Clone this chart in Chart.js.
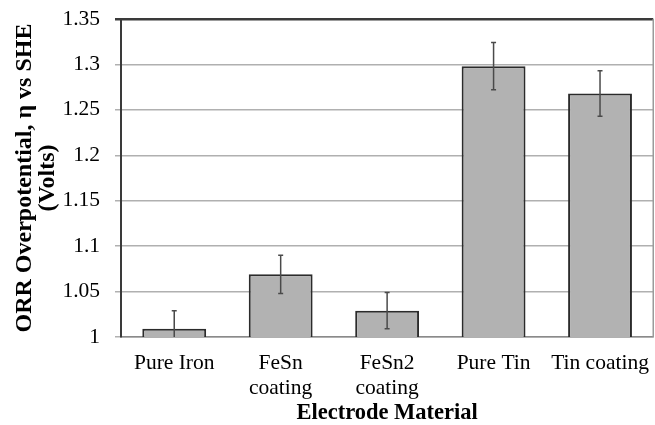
<!DOCTYPE html>
<html>
<head>
<meta charset="utf-8">
<script src="https://cdn.jsdelivr.net/npm/chart.js@4.4.1/dist/chart.umd.min.js"></script>
<style>
  html, body { margin: 0; padding: 0; background: #ffffff; }
  #wrap { width: 655px; height: 425px; position: relative; }
</style>
</head>
<body>
<div id="wrap"><canvas id="c"></canvas></div>
<script>
// Electrode materials and their ORR overpotential (V vs SHE) with error margins
const categories = ['Pure Iron', ['FeSn', 'coating'], ['FeSn2', 'coating'], 'Pure Tin', 'Tin coating'];
const overpotential = [1.009, 1.069, 1.029, 1.298, 1.268];
const errorMargin = [0.020, 0.021, 0.020, 0.026, 0.025];
const yTicks = [1, 1.05, 1.1, 1.15, 1.2, 1.25, 1.3, 1.35];

const SERIF = "'Liberation Serif', 'Times New Roman', serif";

// Draws symmetric error bars with small caps on top of each bar
const errorBars = {
  id: 'errorBars',
  afterDatasetsDraw(chart) {
    const ctx = chart.ctx;
    const y = chart.scales.y;
    const meta = chart.getDatasetMeta(0);
    const area = chart.chartArea;
    ctx.save();
    ctx.beginPath();
    ctx.rect(area.left, area.top, area.right - area.left, area.bottom - area.top);
    ctx.clip();
    ctx.strokeStyle = '#4a4a4a';
    ctx.lineWidth = 1.5;
    meta.data.forEach((bar, i) => {
      const hi = y.getPixelForValue(overpotential[i] + errorMargin[i]);
      const lo = y.getPixelForValue(overpotential[i] - errorMargin[i]);
      const cap = 2.5;
      ctx.beginPath();
      ctx.moveTo(bar.x, hi); ctx.lineTo(bar.x, lo);
      ctx.moveTo(bar.x - cap, hi); ctx.lineTo(bar.x + cap, hi);
      ctx.moveTo(bar.x - cap, lo); ctx.lineTo(bar.x + cap, lo);
      ctx.stroke();
    });
    ctx.restore();
  }
};

// Right-hand frame line of the plot area
const rightFrame = {
  id: 'rightFrame',
  afterDraw(chart) {
    const a = chart.chartArea;
    const ctx = chart.ctx;
    ctx.save();
    ctx.strokeStyle = '#9a9a9a';
    ctx.lineWidth = 1.5;
    ctx.beginPath();
    ctx.moveTo(a.right, a.top);
    ctx.lineTo(a.right, a.bottom);
    ctx.stroke();
    ctx.restore();
  }
};

new Chart(document.getElementById('c'), {
  type: 'bar',
  data: {
    labels: categories,
    datasets: [{
      data: overpotential,
      backgroundColor: '#b2b2b2',
      borderColor: '#2b2b2b',
      borderWidth: 2,
      borderSkipped: false,
      barPercentage: 0.6,
      categoryPercentage: 1.0
    }]
  },
  options: {
    responsive: true,
    maintainAspectRatio: false,
    animation: false,
    layout: { padding: { top: 19, right: 1, left: 0, bottom: 0 } },
    plugins: { legend: { display: false }, tooltip: { enabled: false } },
    scales: {
      x: {
        afterFit(scale) { scale.height = 88; },
        grid: { display: false },
        border: { display: true, color: '#8a8a8a', width: 1.5 },
        ticks: {
          color: '#000000',
          font: { family: SERIF, size: 21.5, lineHeight: 1.16 },
          padding: 6,
          maxRotation: 0,
          autoSkip: false
        },
        title: {
          display: true,
          text: 'Electrode Material',
          color: '#000000',
          font: { family: SERIF, size: 22.5, weight: 'bold', lineHeight: 1.0 },
          padding: { top: 0, bottom: 1 }
        }
      },
      y: {
        min: 1,
        max: 1.35,
        afterBuildTicks(scale) {
          scale.ticks = yTicks.map(v => ({ value: v }));
        },
        afterFit(scale) {
          scale.width = 121;
          scale.paddingTop = 0;
          scale.paddingBottom = 0;
        },
        grid: {
          color: ctx => (ctx.tick && ctx.tick.value === 1.35) ? '#3a3a3a' : '#b0b0b0',
          lineWidth: ctx => (ctx.tick && ctx.tick.value === 1.35) ? 2.5 : 1.5,
          tickLength: 6,
          drawTicks: true
        },
        border: { display: true, color: '#3a3a3a', width: 2 },
        ticks: {
          color: '#000000',
          font: { family: SERIF, size: 21.5 },
          padding: 15,
          callback: v => String(Math.round(v * 100) / 100)
        },
        title: {
          display: true,
          text: ['ORR Overpotential, η vs SHE', '(Volts)'],
          color: '#000000',
          font: { family: SERIF, size: 24, weight: 'bold', lineHeight: 0.96 },
          padding: { top: 13.5, bottom: 0 }
        }
      }
    }
  },
  plugins: [errorBars, rightFrame]
});
</script>
</body>
</html>
